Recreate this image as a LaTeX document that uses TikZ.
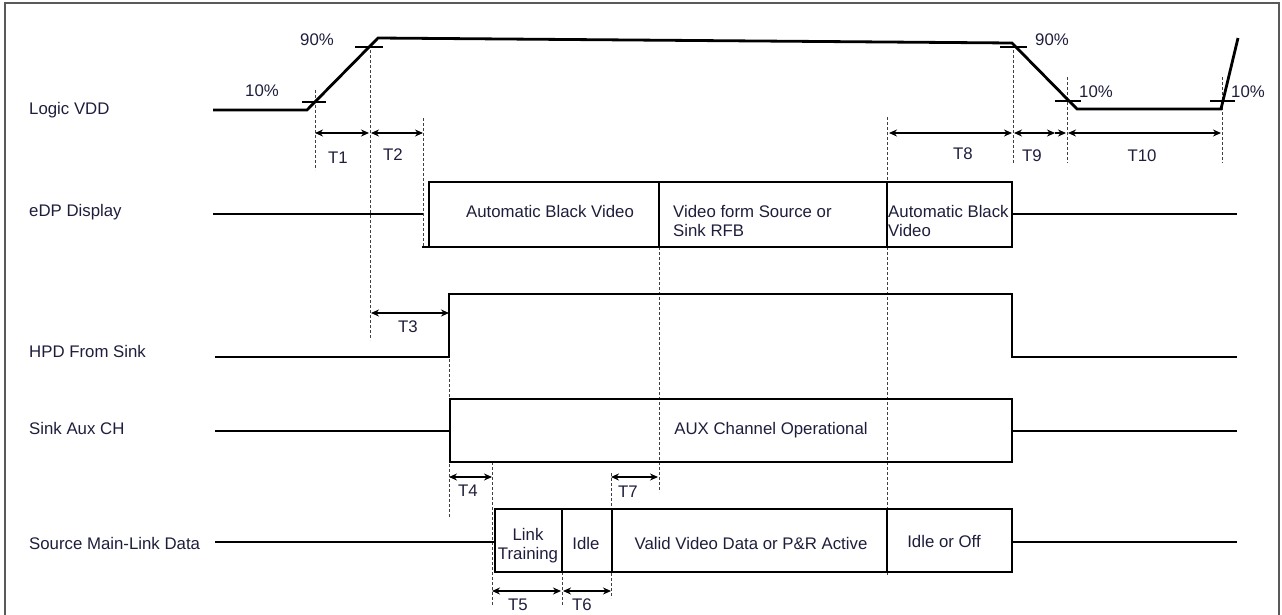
\documentclass[tikz,border=0pt]{standalone}
\usepackage{fontspec}
\setmainfont{Liberation Sans}
\usetikzlibrary{arrows.meta}
\definecolor{txt}{RGB}{30,30,60}
\begin{document}
\begin{tikzpicture}[x=1pt,y=-1pt,
  sig/.style={line width=2.8pt, line join=miter, line cap=butt},
  guide/.style={line width=0.9pt, dash pattern=on 3pt off 2pt, black!75},
  dim/.style={line width=1.3pt, {Stealth[length=8pt,width=7pt]}-{Stealth[length=8pt,width=7pt]}},
  dimr/.style={line width=1.3pt, -{Stealth[length=8pt,width=7pt]}},
  tickmark/.style={line width=1.3pt},
  lbl/.style={font=\fontsize{16.8}{19}\selectfont, text=txt, inner sep=0pt},
]
\useasboundingbox (0,0) rectangle (1282,614);
\draw[line width=1.2pt, black!65] (5,3) rectangle (1279,640);

% ---- row labels
\node[lbl, anchor=west] (lvdd) at (29,110) {Logic VDD};
\node[lbl, anchor=west] (ledp) at (29,212) {eDP Display};
\node[lbl, anchor=west] (lhpd) at (29,351) {HPD From Sink};
\node[lbl, anchor=west] (laux) at (29,428) {Sink Aux CH};
\node[lbl, anchor=west] (lsrc) at (29,543) {Source Main-Link Data};

% ---- guide (dashed) lines
\draw[guide] (315,90) -- (315,170);
\draw[guide] (370,45) -- (370,340);
\draw[guide] (423,118) -- (423,247);
\draw[guide] (1013,45) -- (1013,163);
\draw[guide] (1067,77) -- (1067,163);
\draw[guide] (1222,77) -- (1222,163);
\draw[guide] (887,117) -- (887,575);
\draw[guide] (659,182) -- (659,492);
\draw[guide] (449,294) -- (449,517);
\draw[guide] (492,462) -- (492,605);
\draw[guide] (611,473) -- (611,598);
\draw[guide] (562,572) -- (562,606);

% ---- Logic VDD
\draw[sig] (213,110) -- (307,110) -- (378,38) -- (1012,43) -- (1077,109) -- (1221,109) -- (1238,38);
\draw[tickmark] (302,102) -- (326,102);
\draw[tickmark] (355,47) -- (383,47);
\draw[tickmark] (1000,47) -- (1027,47);
\draw[tickmark] (1055,101) -- (1081,101);
\draw[tickmark] (1210,101) -- (1235,101);
\node[lbl] (p10a) at (262,91) {10\%};
\node[lbl] (p90a) at (317,40) {90\%};
\node[lbl] (p90b) at (1052,40) {90\%};
\node[lbl] (p10b) at (1096,92) {10\%};
\node[lbl] (p10c) at (1248,92) {10\%};

% ---- eDP Display
\draw[sig] (213,214) -- (423,214);
\draw[sig] (422,247) -- (1012,247) -- (1012,182) -- (429,182) -- (429,248.4);
\draw[sig] (659,182) -- (659,247);
\draw[sig] (887,182) -- (887,247);
\draw[sig] (1012,214) -- (1237,214);
\node[lbl] (abv1) at (550,211) {Automatic Black Video};
\node[lbl, anchor=west, align=left] (vfs) at (673,221) {Video form Source or\\Sink RFB};
\node[lbl, anchor=west, align=left] (abv2) at (888,221) {Automatic Black\\Video};

% ---- HPD From Sink
\draw[sig] (215,357) -- (449,357) -- (449,294) -- (1012,294) -- (1012,357) -- (1237,357);

% ---- Sink Aux CH
\draw[sig] (215,431) -- (450,431);
\draw[sig] (450,399) rectangle (1012,462);
\draw[sig] (1012,431) -- (1237,431);
\node[lbl] (auxop) at (771,430) {AUX Channel Operational};

% ---- Source Main-Link Data
\draw[sig] (215,542) -- (495,542);
\draw[sig] (495,509) rectangle (1012,572);
\draw[sig] (562,509) -- (562,572);
\draw[sig] (612,509) -- (612,572);
\draw[sig] (887,509) -- (887,572);
\draw[sig] (1012,542) -- (1237,542);
\node[lbl, align=center] (lt) at (528,546) {Link\\Training};
\node[lbl] (idle) at (586,543) {Idle};
\node[lbl] (valid) at (751,543) {Valid Video Data or P\&R Active};
\node[lbl] (idleoff) at (944,541) {Idle or Off};

% ---- timing arrows
\draw[dim] (315,133) -- (369,133);
\draw[dim] (371,133) -- (423,133);
\draw[dim] (889,133) -- (1012,133);
\draw[dim] (1014,133) -- (1055,133);
\draw[dimr] (1055,133) -- (1066,133);
\draw[dim] (1068,133) -- (1221,133);
\draw[dim] (371,313) -- (449,313);
\draw[dim] (449,477) -- (492,477);
\draw[dim] (611,477) -- (658,477);
\draw[dim] (492,591) -- (561,591);
\draw[dim] (563,591) -- (611,591);

\node[lbl] (t1) at (338,158) {T1};
\node[lbl] (t2) at (393,155) {T2};
\node[lbl] (t8) at (963,154) {T8};
\node[lbl] (t9) at (1032,156) {T9};
\node[lbl] (t10) at (1142,156) {T10};
\node[lbl] (t3) at (408,327) {T3};
\node[lbl] (t4) at (468,491) {T4};
\node[lbl] (t7) at (628,492) {T7};
\node[lbl] (t5) at (518,605) {T5};
\node[lbl] (t6) at (582,605) {T6};
\end{tikzpicture}
\end{document}
